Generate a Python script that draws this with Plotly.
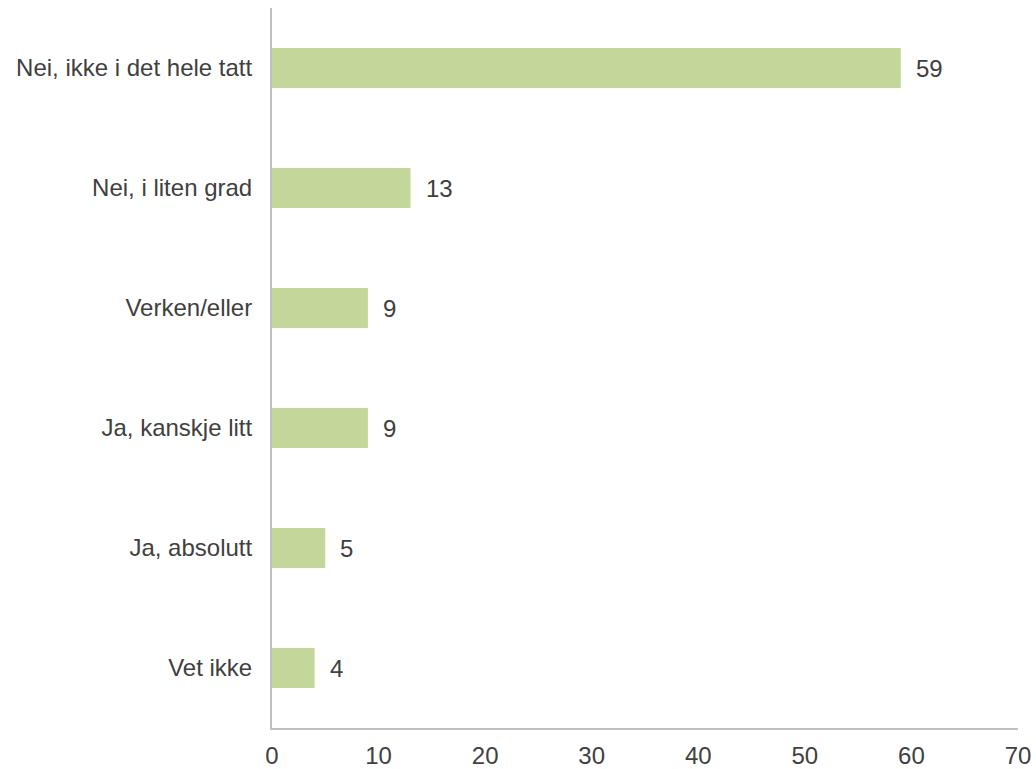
import plotly.graph_objects as go

categories = [
    "Nei, ikke i det hele tatt",
    "Nei, i liten grad",
    "Verken/eller",
    "Ja, kanskje litt",
    "Ja, absolutt",
    "Vet ikke",
]
values = [59, 13, 9, 9, 5, 4]
x_ticks = [0, 10, 20, 30, 40, 50, 60, 70]

bar_color = "#c4d79b"
text_color = "#404040"
axis_color = "#bfbfbf"
font_family = "Liberation Sans, Arial, sans-serif"
font_size = 24

fig = go.Figure(
    go.Bar(
        x=values,
        y=categories,
        orientation="h",
        marker=dict(color=bar_color, line=dict(width=0)),
        hoverinfo="x+y",
    )
)

# value labels to the right of each bar
for cat, val in zip(categories, values):
    fig.add_annotation(
        x=val, y=cat, text=str(val), showarrow=False,
        xanchor="left", yanchor="middle", xshift=13,
        font=dict(family=font_family, size=font_size, color=text_color),
    )

fig.update_layout(
    width=1036, height=769,
    margin=dict(l=272, r=18, t=8, b=41, autoexpand=False),
    paper_bgcolor="white", plot_bgcolor="white",
    bargap=0.667,
    showlegend=False,
    font=dict(family=font_family, size=font_size, color=text_color),
)
fig.update_xaxes(
    range=[0, 70], tickvals=x_ticks, showgrid=False, zeroline=False,
    showline=True, linecolor=axis_color, linewidth=2,
    ticks="", ticklabelstandoff=5, automargin=False,
    tickfont=dict(family=font_family, size=font_size, color=text_color),
)
fig.update_yaxes(
    categoryorder="array", categoryarray=categories[::-1],
    showgrid=False, zeroline=False,
    showline=True, linecolor=axis_color, linewidth=2,
    ticks="", ticklabelstandoff=13, automargin=False,
    tickfont=dict(family=font_family, size=font_size, color=text_color),
)

fig.write_html("out.html")
